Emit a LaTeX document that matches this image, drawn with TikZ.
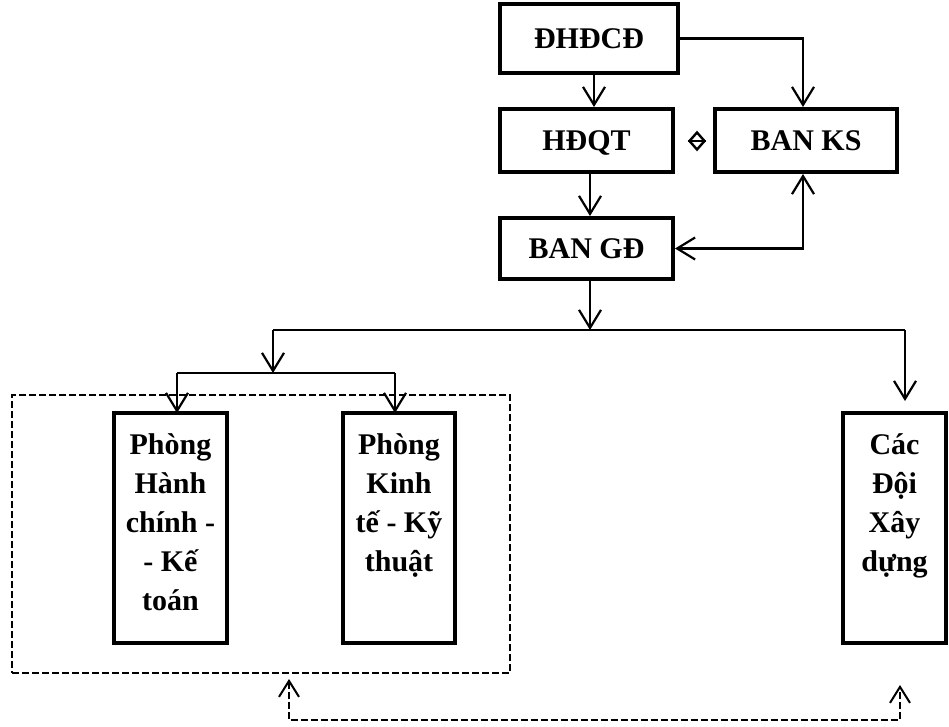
\documentclass[tikz,border=0pt]{standalone}
\usepackage{fontspec}
\setmainfont{Liberation Serif}
\usetikzlibrary{arrows.meta,shapes.geometric}
\begin{document}
\begin{tikzpicture}[x=1pt,y=-1pt,
  box/.style={draw,line width=4pt,inner sep=0pt,font=\bfseries\fontsize{30}{39}\selectfont},
  sbox/.style={box,text height=20pt,text depth=0pt},
  conn/.style={line width=2.2pt,-{Straight Barb[length=18pt,width=22pt,line width=2.2pt]}},
  bconn/.style={line width=2.2pt,{Straight Barb[length=18pt,width=22pt,line width=2.2pt]}-{Straight Barb[length=18pt,width=22pt,line width=2.2pt]}},
  line/.style={line width=2.2pt},
  grp/.style={draw,line width=1.6pt,dash pattern=on 7pt off 3pt,inner sep=0pt},
  dconn/.style={line width=1.8pt,dash pattern=on 7pt off 3pt,{Straight Barb[length=16pt,width=20pt,line width=2pt]}-{Straight Barb[length=16pt,width=20pt,line width=2pt]}}]
\useasboundingbox (0,0) rectangle (949,727);

% top boxes
\node[sbox,minimum width=178pt,minimum height=69pt] (dh) at (589,38.5) {ĐHĐCĐ};
\node[sbox,minimum width=173pt,minimum height=63pt] (hd) at (586.5,140.5) {HĐQT};
\node[sbox,minimum width=182pt,minimum height=63pt] (ks) at (806,140.5) {BAN KS};
\node[sbox,minimum width=173pt,minimum height=61pt] (gd) at (586.5,248.5) {BAN GĐ};

% small symbol between HĐQT and BAN KS
\node[draw,diamond,aspect=0.8,line width=2.4pt,inner sep=0pt,minimum width=16pt,minimum height=18pt] (sym) at (697,141) {};
\draw[line width=2.4pt] (sym.west) -- (sym.east);

% top connectors
\draw[conn] (dh.south -| 594,0) -- (hd.north -| 594,0);
\draw[conn] (dh.east) -| (ks.north -| 803,0);
\draw[conn] (hd.south -| 590,0) -- (gd.north -| 590,0);
\draw[bconn] (gd.east) -| (ks.south -| 803,0);

% distribution
\coordinate (j1) at (590,330);
\coordinate (jl) at (273,330);
\coordinate (jr) at (905,330);
\coordinate (j2) at (273,373);
\coordinate (j2l) at (177,373);
\coordinate (j2r) at (395,373);
\coordinate (jre) at (905,401);

% group and lower boxes
\node[grp,minimum width=498pt,minimum height=278pt] (grp) at (261,534) {};
\node[box] (hc) at (170.5,528)
  {\parbox[c][230pt][t]{113pt}{\centering\vspace*{21pt}Phòng\\Hành\\chính -\\- Kế\\toán}};
\node[box] (kt) at (399,528)
  {\parbox[c][230pt][t]{112pt}{\centering\vspace*{21pt}Phòng\\Kinh\\tế - Kỹ\\thuật}};
\node[box] (dx) at (894.5,528)
  {\parbox[c][230pt][t]{103pt}{\centering\vspace*{21pt}Các\\Đội\\Xây\\dựng}};

\draw[conn] (gd.south -| j1) -- (j1);
\draw[line] (jl) -- (jr);
\draw[conn] (jl) -- (j2);
\draw[line] (j2l) -- (j2r);
\draw[conn] (j2l) -- ([yshift=-2pt]hc.north -| j2l);
\draw[conn] (j2r) -- ([yshift=-2pt]kt.north -| j2r);
\draw[conn] (jr) -- (jre);

% dashed link at the bottom
\coordinate (a1) at (289,679);
\coordinate (b1) at (289,720);
\coordinate (b2) at (900,720);
\coordinate (a2) at (900,685);
\draw[dconn] (a1) -- (b1) -- (b2) -- (a2);
\end{tikzpicture}
\end{document}
